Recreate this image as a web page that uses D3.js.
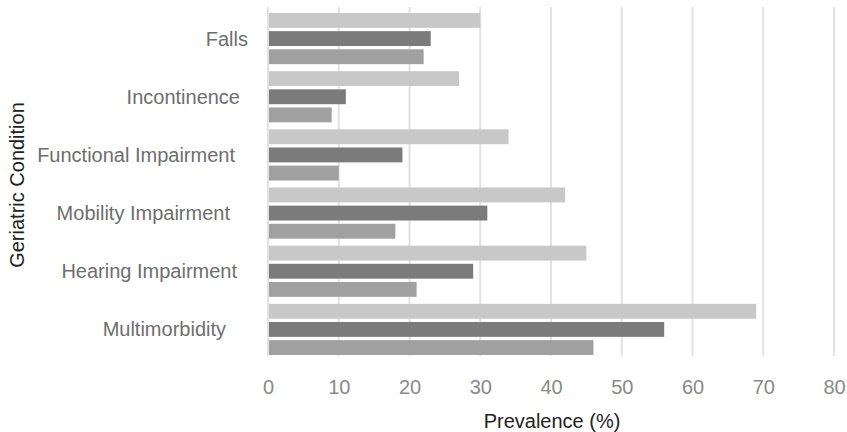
<!DOCTYPE html>
<html><head><meta charset="utf-8">
<script src="https://cdn.jsdelivr.net/npm/d3@7"></script>
<style>body{margin:0;background:#fff;} svg{display:block;font-family:"Liberation Sans",Arial,sans-serif;}</style>
</head><body><svg id="c" width="847" height="432"></svg>
<script>
const categories = ["Falls","Incontinence","Functional Impairment","Mobility Impairment","Hearing Impairment","Multimorbidity"];
const seriesNames = ["Series A","Series B","Series C"];
const seriesA = [30,27,34,42,45,69];
const seriesB = [23,11,19,31,29,56];
const seriesC = [22,9,10,18,21,46];
const xTicks = [0,10,20,30,40,50,60,70,80];
const labelOffsets = [20,28,33,38,31,42];
const colors = ["#c8c8c8","#7b7b7b","#a0a0a0"];

const svg = d3.select("#c");
const x = d3.scaleLinear().domain([0,80]).range([268,834]);
const y = d3.scaleBand().domain(categories).range([7,356]).paddingInner(0).paddingOuter(0);
const inner = d3.scaleBand().domain(seriesNames).range([6, y.bandwidth()-1]).paddingInner(0.18);

// gridlines
svg.append("g").selectAll("line").data(xTicks).join("line")
  .attr("x1",d=>x(d)).attr("x2",d=>x(d)).attr("y1",7).attr("y2",356)
  .attr("stroke","#e2e2e2").attr("stroke-width",2);

const series = [seriesA,seriesB,seriesC];
const g = svg.append("g");
categories.forEach((c,i)=>{
  series.forEach((s,j)=>{
    g.append("rect")
      .attr("x",x(0)+1).attr("y",y(c)+inner(seriesNames[j]))
      .attr("width",x(s[i])-x(0)-1).attr("height",inner.bandwidth())
      .attr("fill",colors[j]);
  });
});

// x axis tick labels
const xa = d3.axisBottom(x).tickValues(xTicks).tickSize(0).tickPadding(0);
const xg = svg.append("g").attr("transform","translate(0,394)").call(xa);
xg.select(".domain").remove();
xg.selectAll("text").attr("font-size",20).attr("fill","#8a8a8a").attr("font-family","Liberation Sans, Arial, sans-serif").attr("dy",0);

// category labels
svg.append("g").selectAll("text").data(categories).join("text")
  .attr("x",(d,i)=>268-labelOffsets[i])
  .attr("y",d=>y(d)+inner(seriesNames[1])+inner.bandwidth()/2)
  .attr("dy","0.35em").attr("text-anchor","end")
  .attr("font-size",20).attr("fill","#6e6e6e").text(d=>d);

svg.append("text").attr("x",552).attr("y",428).attr("text-anchor","middle")
  .attr("font-size",20).attr("fill","#222").text("Prevalence (%)");
svg.append("text").attr("transform","translate(24,185) rotate(-90)").attr("text-anchor","middle")
  .attr("font-size",20).attr("fill","#222").text("Geriatric Condition");
</script></body></html>
